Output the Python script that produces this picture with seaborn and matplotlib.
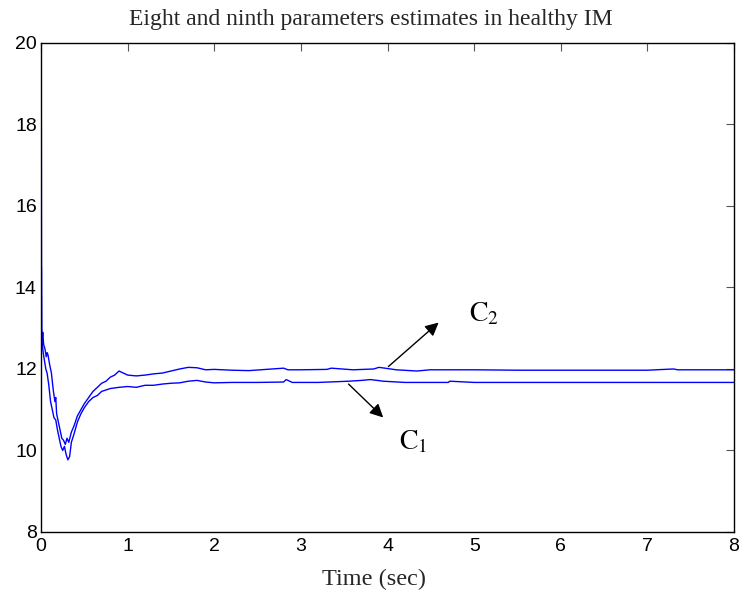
import matplotlib
matplotlib.use("Agg")
import matplotlib.pyplot as plt
import seaborn as sns
import pandas as pd

# ---- data ----
c2_t = [0, 0.002, 0.006, 0.012, 0.02, 0.03, 0.045, 0.06, 0.07, 0.08, 0.1, 0.12, 0.14, 0.16, 0.17,
        0.18, 0.2, 0.22, 0.24, 0.26, 0.28, 0.3, 0.32, 0.35, 0.38, 0.42, 0.46, 0.5, 0.55, 0.6, 0.65,
        0.7, 0.75, 0.8, 0.85, 0.9, 0.95, 1.0, 1.1, 1.2, 1.3, 1.4, 1.5, 1.6, 1.7, 1.8, 1.9, 2.0, 2.2,
        2.4, 2.6, 2.8, 2.85, 3.0, 3.3, 3.35, 3.6, 3.84, 3.9, 3.97, 4.1, 4.34, 4.49, 4.6, 5.0, 5.5,
        6.0, 6.5, 7.0, 7.3, 7.35, 7.6, 8.0]
c2_v = [11.0, 21.0, 13.0, 12.7, 12.9, 12.6, 12.5, 12.3, 12.4, 12.35, 12.1, 11.9, 11.5, 11.2, 11.3,
        10.9, 10.7, 10.5, 10.3, 10.25, 10.15, 10.3, 10.2, 10.45, 10.6, 10.85, 11.0, 11.15, 11.3,
        11.45, 11.55, 11.65, 11.7, 11.8, 11.85, 11.95, 11.9, 11.85, 11.83, 11.85, 11.88, 11.9,
        11.95, 12.0, 12.04, 12.03, 11.98, 11.99, 11.97, 11.96, 11.99, 12.02, 11.98, 11.98, 11.99,
        12.02, 11.98, 12.0, 12.04, 12.02, 11.98, 11.95, 11.98, 11.98, 11.98, 11.97, 11.97, 11.97,
        11.97, 12.0, 11.98, 11.98, 11.98]

c1_t = [0, 0.004, 0.008, 0.015, 0.025, 0.04, 0.055, 0.07, 0.09, 0.11, 0.13, 0.15, 0.17, 0.19, 0.21,
        0.23, 0.25, 0.27, 0.29, 0.31, 0.33, 0.35, 0.38, 0.42, 0.46, 0.5, 0.55, 0.6, 0.65, 0.7, 0.8,
        0.9, 1.0, 1.1, 1.2, 1.3, 1.4, 1.5, 1.6, 1.7, 1.8, 1.9, 2.0, 2.2, 2.5, 2.8, 2.83, 2.9, 3.2,
        3.55, 3.7, 3.8, 3.88, 3.95, 4.2, 4.7, 4.72, 5.0, 6.0, 7.0, 8.0]
c1_v = [12.5, 14.5, 12.9, 12.6, 12.4, 12.2, 12.0, 11.9, 11.6, 11.2, 11.0, 10.8, 10.75, 10.5, 10.3,
        10.1, 10.0, 10.1, 9.9, 9.77, 9.85, 10.2, 10.4, 10.7, 10.9, 11.05, 11.2, 11.3, 11.35, 11.45,
        11.52, 11.55, 11.57, 11.55, 11.6, 11.6, 11.63, 11.65, 11.66, 11.7, 11.72, 11.68, 11.66,
        11.67, 11.67, 11.68, 11.74, 11.67, 11.67, 11.7, 11.72, 11.74, 11.72, 11.7, 11.67, 11.67,
        11.7, 11.67, 11.67, 11.67, 11.67]

title = "Eight and ninth parameters estimates in healthy IM"
xlabel = "Time (sec)"
x_ticks = [0, 1, 2, 3, 4, 5, 6, 7, 8]
y_ticks = [8, 10, 12, 14, 16, 18, 20]

# ---- plot ----
sns.set_style("white")
plt.rcParams["mathtext.fontset"] = "stix"

df2 = pd.DataFrame({"t": c2_t, "v": c2_v})
df1 = pd.DataFrame({"t": c1_t, "v": c1_v})

fig = plt.figure(figsize=(7.42, 5.93), dpi=100)
ax = fig.add_axes([0.0553, 0.1029, 0.9340, 0.8246])

sns.lineplot(data=df2, x="t", y="v", ax=ax, color="#0000ff", lw=1.0,
             estimator=None, sort=False)
sns.lineplot(data=df1, x="t", y="v", ax=ax, color="#0000ff", lw=1.0,
             estimator=None, sort=False)

ax.set_xlim(0, 8)
ax.set_ylim(8, 20)
ax.set_xticks(x_ticks)
ax.set_yticks(y_ticks)
ax.set_xticklabels([str(v) for v in x_ticks], family="Liberation Sans", fontsize=14)
ax.set_yticklabels([str(v) for v in y_ticks], family="Liberation Sans", fontsize=14)
ax.tick_params(axis="x", pad=4)
ax.tick_params(axis="y", pad=3)
ax.tick_params(direction="in", length=6, width=0.8, color="#555555",
               top=True, right=True, labelcolor="black")
for s in ax.spines.values():
    s.set_color("black")
    s.set_linewidth(1.0)
    s.set_visible(True)

ax.set_xlabel(xlabel, family="Liberation Serif", fontsize=17.5)
ax.xaxis.set_label_coords(0.4805, -0.0745)
ax.set_ylabel("")
ax.set_title(title, family="Liberation Serif", fontsize=17, pad=13, x=0.476)

arrow = dict(arrowstyle="-|>", color="black", lw=1.0, mutation_scale=20, shrinkA=0, shrinkB=0)
ax.annotate("", xy=(4.59, 13.14), xytext=(4.01, 12.06), arrowprops=arrow)
ax.annotate("", xy=(3.95, 10.81), xytext=(3.55, 11.63), arrowprops=arrow)
ax.text(5.11, 13.37, r"$\mathrm{C_2}$", fontsize=20, ha="center", va="center", color="black")
ax.text(4.30, 10.22, r"$\mathrm{C_1}$", fontsize=20, ha="center", va="center", color="black")

fig.savefig("out.png", dpi=100)
